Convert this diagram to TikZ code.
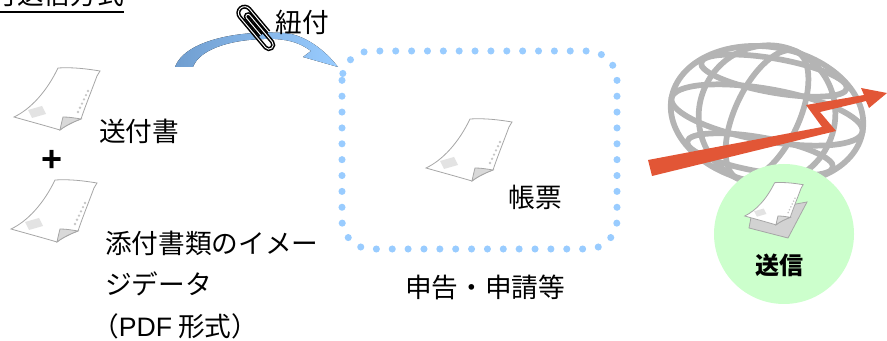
\documentclass[tikz,border=0pt]{standalone}
\usepackage{fontspec}
\setmainfont{Liberation Sans}
\newfontfamily\jp{Noto Sans CJK JP}
\usetikzlibrary{positioning}
\definecolor{dotblue}{RGB}{153,204,255}
\definecolor{darkblue}{RGB}{112,158,208}
\definecolor{zapred}{RGB}{226,86,54}
\definecolor{sendgreen}{RGB}{204,255,204}
\definecolor{globegray}{RGB}{180,180,180}

\begin{document}
\begin{tikzpicture}[x=0.75pt,y=-0.75pt]
\tikzstyle{lbl}=[inner sep=0pt, font=\jp\fontsize{20}{24}\selectfont]
\tikzstyle{globe}=[draw=globegray, line width=4.3pt]
\tikzstyle{dotbox}=[draw=dotblue, line width=5.3pt, line cap=round, dash pattern=on 0pt off 11.9pt, rounded corners=22pt]
\tikzset{paper/.pic={
  \filldraw[fill=white, draw=gray!70, line width=0.6pt]
    (45,1) .. controls (60,0) and (75,2) .. (87,4) .. controls (86,6) and (85,7) .. (84,9)
    .. controls (78,25) and (72,40) .. (68,52) .. controls (60,55) and (52,59) .. (47,63)
    .. controls (30,58) and (15,54) .. (1,50) .. controls (18,42) and (34,24) .. (45,1) -- cycle;
  \filldraw[fill=gray!30, draw=gray!70, line width=0.6pt]
    (47,63) .. controls (48,58) and (49,54) .. (50,50) .. controls (56,50) and (62,51) .. (68,52)
    .. controls (60,55) and (52,59) .. (47,63) -- cycle;
  \fill[gray!22] (15,43) -- (29,39) -- (33,47) -- (19,51) -- cycle;
  \foreach \t in {0,...,5} \fill[gray!45] (75-2*\t, 24+4.2*\t) circle (1.3);
}}
\tikzset{clipwire/.pic={
  \draw[line width=3pt] (24,1.5) -- (6,1.5) arc[start angle=90, end angle=270, radius=1.75]
    -- (34,-2) arc[start angle=-90, end angle=90, radius=3.5]
    -- (2,5) arc[start angle=90, end angle=270, radius=5] -- (26,-5);
  \draw[line width=0.7pt, white] (24,1.5) -- (6,1.5) arc[start angle=90, end angle=270, radius=1.75]
    -- (34,-2) arc[start angle=-90, end angle=90, radius=3.5]
    -- (2,5) arc[start angle=90, end angle=270, radius=5] -- (26,-5);
}}
\useasboundingbox (0,0) rectangle (887,341);
\clip (0,0) rectangle (887,341);

% heading
\node[lbl, anchor=base east] (title) at (124,5) {付送信方式};
\draw[line width=1.4pt] (0,12) -- (124,12);

% left column
\pic at (13,67) {paper};
\pic at (10,179) {paper};
\node[lbl, anchor=west] (cover) at (99,131) {送付書};
\node[font=\bfseries\fontsize{27}{30}\selectfont, inner sep=0pt] (plus) at (52,161) {+};
\node[lbl, anchor=west] (att1) at (105,243) {添付書類のイメー};
\node[lbl, anchor=west] (att2) at (105,284) {ジデータ};
\node[lbl, anchor=west] (att3) at (92,326) {（{\rmfamily PDF} 形式）};

% link arrow
\fill[left color=darkblue, right color=dotblue]
  (175,67) .. controls (185,40) and (240,30) .. (285,33) .. controls (305,35) and (325,50) .. (338,67)
  -- (303,57) -- (311,51) .. controls (300,43) and (290,40) .. (275,39)
  .. controls (235,38) and (200,48) .. (193,67) -- cycle;
\pic[rotate=-50, scale=1.25] at (243,11) {clipwire};
\node[lbl] (link) at (302,22) {紐付};

% form box
\draw[dotbox] (342,51) rectangle (617,249);
\pic at (425,118) {paper};
\node[lbl] (form) at (535,197) {帳票};
\node[lbl] (apply) at (485,287) {申告・申請等};

% globe
\begin{scope}[shift={(767,115)}, rotate=-10]
  \draw[globe] (0,0) ellipse [x radius=97, y radius=68];
  \draw[globe] (0,0) ellipse [x radius=97, y radius=26];
  \draw[globe] (0,-40) ellipse [x radius=74, y radius=17];
  \draw[globe] (0,40) ellipse [x radius=74, y radius=17];
  \draw[globe, rotate=-15] (0,0) ellipse [x radius=32, y radius=70];
  \draw[globe, rotate=-15] (0,0) ellipse [x radius=68, y radius=70];
\end{scope}
\fill[zapred] (648,160) -- (652,176) -- (836,131) -- (820,112) -- (866,101) -- (869,108)
  -- (887,93) -- (861,88) -- (864,95) -- (806,105) -- (822,127) -- cycle;

% send
\fill[sendgreen] (784,234) circle (70);
\filldraw[fill=gray!35, draw=gray!70, line width=0.6pt] (752,212) -- (807,202) -- (788,238) -- (749,228) -- cycle;
\pic[scale=0.68] at (744,182) {paper};
\node[lbl, font=\jp\bfseries\fontsize{18}{22}\selectfont] (send) at (779,265) {送信};
\end{tikzpicture}
\end{document}
